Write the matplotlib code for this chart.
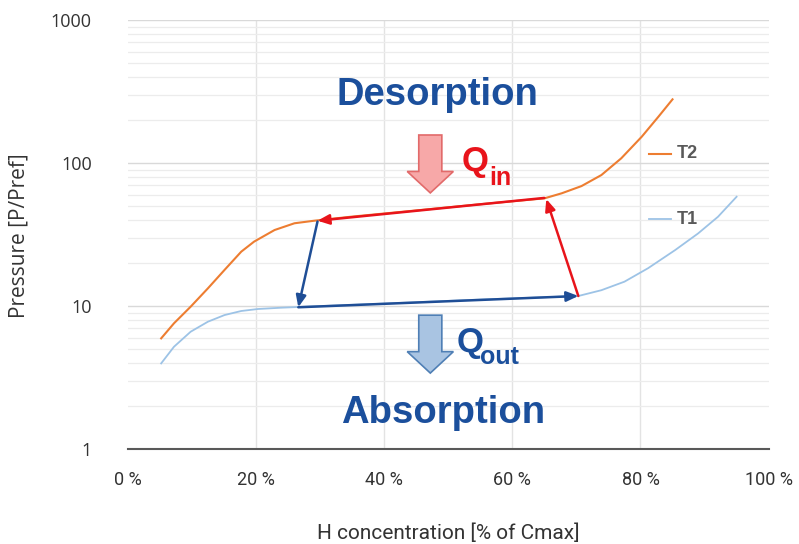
import numpy as np
import matplotlib
matplotlib.use('Agg')
import matplotlib.pyplot as plt
from matplotlib.patches import FancyArrow
from matplotlib.ticker import FixedLocator, NullFormatter

# isotherm curves (x in % of Cmax, y in P/Pref)
t2_x = [5.2, 7.2, 9.8, 12.5, 15.1, 17.7, 19.7, 22.9, 26.0, 29.1, 35.0, 45.0, 55.0,
        65.0, 67.7, 70.8, 73.9, 77.0, 80.2, 82.8, 85.0]
t2_y = [5.94, 7.57, 9.89, 13.3, 17.9, 24.0, 28.2, 34.0, 37.9, 39.5, 42.2, 46.6, 51.5,
        56.6, 61.4, 69.0, 82.4, 107.9, 152.8, 210.8, 278.8]
t1_x = [5.2, 7.2, 9.8, 12.5, 15.1, 17.7, 20.3, 23.9, 26.5, 40.0, 55.0,
        70.3, 73.9, 77.5, 81.2, 85.4, 89.0, 92.1, 95.0]
t1_y = [3.97, 5.19, 6.61, 7.77, 8.65, 9.23, 9.53, 9.73, 9.84, 10.4, 11.1,
        11.75, 12.9, 14.8, 18.4, 24.6, 32.2, 42.1, 58.1]

# cycle arrows (start, end) in data coords
red_arrows = [((70.3, 11.75), (65.3, 56.0)), ((65.0, 57.0), (29.6, 39.5))]
blue_arrows = [((29.6, 39.0), (26.6, 9.8)), ((26.6, 9.8), (70.3, 11.75))]

x_ticks = [0, 20, 40, 60, 80, 100]
y_ticks = [1, 10, 100, 1000]

bold_font = 'Liberation Sans'
c_t2 = '#ED7D31'
c_t1 = '#9DC3E6'
c_red = '#E8141B'
c_blue = '#1F4E96'
c_text_blue = '#1B4F9C'
c_label = '#333333'

fig = plt.figure(figsize=(7.99, 5.44), dpi=100)
ax = fig.add_axes([0.160, 0.1746, 0.802, 0.7886])
ax.set_yscale('log')
ax.set_xlim(0, 100)
ax.set_ylim(1, 1000)

# grid
ax.yaxis.set_minor_locator(FixedLocator([m * 10 ** d for d in range(0, 3) for m in range(2, 10)]))
ax.yaxis.set_minor_formatter(NullFormatter())
ax.grid(axis='y', which='major', color='#d9d9d9', lw=1.0)
ax.grid(axis='y', which='minor', color='#ececec', lw=0.9)
for gx in [20, 40, 60, 80]:
    ax.axvline(gx, color='#e3e3e3', lw=1.0, zorder=0)
ax.set_axisbelow(True)

for s in ['top', 'right', 'left']:
    ax.spines[s].set_visible(False)
ax.spines['bottom'].set_color('#595959')
ax.spines['bottom'].set_linewidth(1.5)

ax.set_xticks(x_ticks)
ax.set_xticklabels([f'{v} %' for v in x_ticks], fontname='Roboto', fontsize=13, color=c_label)
ax.set_yticks(y_ticks)
ax.set_yticklabels([str(v) for v in y_ticks], fontname='Open Sans', fontsize=13, color=c_label)
ax.tick_params(axis='both', which='both', length=0)
ax.tick_params(axis='x', pad=16)
ax.tick_params(axis='y', pad=26)

ax.set_xlabel('H concentration [% of Cmax]', fontname='Roboto', fontsize=15, color=c_label, labelpad=25)
ax.set_ylabel('Pressure [P/Pref]', fontname='Open Sans', fontsize=15, color=c_label)
ax.yaxis.set_label_coords(-0.154, 0.497)

# curves
ax.plot(t2_x, t2_y, color=c_t2, lw=1.5, zorder=3)
ax.plot(t1_x, t1_y, color=c_t1, lw=1.3, zorder=3)

for (x0, y0), (x1, y1) in red_arrows:
    ax.annotate('', xy=(x1, y1), xytext=(x0, y0),
                arrowprops=dict(arrowstyle='-|>,head_length=0.7,head_width=0.3', color=c_red, lw=1.8,
                                shrinkA=0, shrinkB=0), zorder=5)
for (x0, y0), (x1, y1) in blue_arrows:
    ax.annotate('', xy=(x1, y1), xytext=(x0, y0),
                arrowprops=dict(arrowstyle='-|>,head_length=0.7,head_width=0.3', color=c_blue, lw=1.8,
                                shrinkA=0, shrinkB=0), zorder=5)

# legend-like labels
ax.plot([0.814, 0.847], [0.688, 0.688], transform=ax.transAxes, color=c_t2, lw=1.5)
ax.text(0.856, 0.688, 'T2', transform=ax.transAxes, fontname=bold_font, fontweight='bold',
        fontsize=13, color='#595959', va='center')
ax.plot([0.814, 0.847], [0.536, 0.536], transform=ax.transAxes, color=c_t1, lw=1.3)
ax.text(0.856, 0.536, 'T1', transform=ax.transAxes, fontname=bold_font, fontweight='bold',
        fontsize=13, color='#595959', va='center')

# big labels
ax.text(0.483, 0.802, 'Desorption', transform=ax.transAxes, fontname=bold_font, fontweight='bold',
        fontsize=27.5, color=c_text_blue, ha='center', va='baseline')
ax.text(0.492, 0.061, 'Absorption', transform=ax.transAxes, fontname=bold_font, fontweight='bold',
        fontsize=27.5, color=c_text_blue, ha='center', va='baseline')

# heat arrows
ax.add_patch(FancyArrow(0.472, 0.732, 0, -0.135, width=0.036, head_width=0.072, head_length=0.05,
                        length_includes_head=True, transform=ax.transAxes,
                        facecolor='#F7A8A8', edgecolor='#E26A6A', lw=1.2, zorder=6))
ax.add_patch(FancyArrow(0.472, 0.312, 0, -0.135, width=0.036, head_width=0.072, head_length=0.05,
                        length_includes_head=True, transform=ax.transAxes,
                        facecolor='#A9C4E2', edgecolor='#4F7FB5', lw=1.2, zorder=6))

ax.text(0.521, 0.670, 'Q', transform=ax.transAxes, fontname=bold_font, fontweight='bold',
        fontsize=25, color=c_red, ha='left', va='center')
ax.text(0.564, 0.632, 'in', transform=ax.transAxes, fontname=bold_font, fontweight='bold',
        fontsize=18, color=c_red, ha='left', va='center')
ax.text(0.513, 0.249, 'Q', transform=ax.transAxes, fontname=bold_font, fontweight='bold',
        fontsize=25, color=c_text_blue, ha='left', va='center')
ax.text(0.549, 0.214, 'out', transform=ax.transAxes, fontname=bold_font, fontweight='bold',
        fontsize=18, color=c_text_blue, ha='left', va='center')

fig.savefig('out.png', dpi=100)
